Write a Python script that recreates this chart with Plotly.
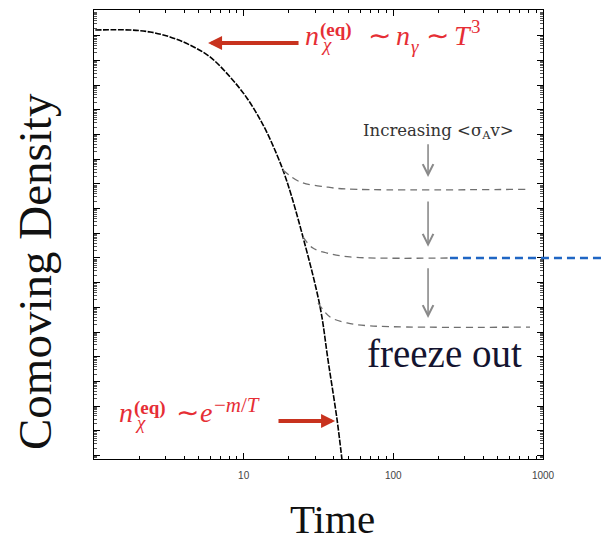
import numpy as np
import plotly.graph_objects as go

# ---------------- data ----------------
# equilibrium comoving density curve: time, log10(density)
eq_time = [1.02, 1.74, 2.37, 3.22, 4.38, 5.96, 8.11, 10.5, 13.5, 16.7, 19.5, 24.9, 32.4, 36.6, 42.1, 45.4]
eq_logn = [-0.77, -0.77, -0.85, -1.05, -1.38, -1.86, -2.67, -3.52, -4.62, -5.83, -6.92, -9.15, -11.98, -14.13, -16.56, -18.18]

# freeze-out branches (increasing <sigma_A v> from top to bottom)
fo1_time = [18.3, 23.8, 36.1, 49.0, 819]
fo1_logn = [-6.44, -6.92, -7.13, -7.21, -7.22]
fo2_time = [24.9, 29.0, 36.1, 51.3, 239]
fo2_logn = [-9.15, -9.60, -9.80, -9.96, -10.0]
fo3_time = [31.4, 37.8, 49.0, 69.8, 819]
fo3_logn = [-11.82, -12.39, -12.63, -12.75, -12.80]

# blue reference line at the middle relic level
relic_time_start = 239
relic_logn = -10.0

# grey "increasing" arrows: time, log10 start, log10 end
incr_time = 170.6
incr_from = [-5.34, -7.65, -10.36]
incr_to = [-6.72, -9.55, -12.43]

# red arrows: (tip time, tail time, log10 level)
red_top = (5.78, 23.8, -1.30)
red_bot = (40.8, 16.7, -16.6)

x_tickvals = [1, 10, 100, 1000]
x_ticktext = ["", "10", "100", "1000"]

# ---------------- layout helpers ----------------
W, H = 603, 539
L0, R0, T0, B0 = 94, 543, 10, 459
RED_TXT = "#e62e35"
RED_ARR = "#c8321e"
SERIF = "Liberation Serif"


def px(xp, yp):
    return (xp - L0) / (R0 - L0), (B0 - yp) / (B0 - T0)


def txt(s, xp, yp, size, color, family=SERIF, xanchor="left", angle=0):
    x, y = px(xp, yp)
    return dict(text=s, x=x, y=y, xref="paper", yref="paper", xanchor=xanchor,
                yanchor="middle", showarrow=False, textangle=angle,
                font=dict(family=family, size=size, color=color))


def arrow(t_tip, l_tip, t_tail, l_tail, color, width, head, size):
    return dict(x=np.log10(t_tip), y=l_tip, ax=np.log10(t_tail), ay=l_tail,
                xref="x", yref="y", axref="x", ayref="y", text="", showarrow=True,
                arrowhead=head, arrowsize=size, arrowwidth=width, arrowcolor=color,
                standoff=0, startstandoff=0)


fig = go.Figure()

fig.add_trace(go.Scatter(x=eq_time, y=[10 ** v for v in eq_logn], mode="lines",
                         line=dict(color="black", width=1.6, dash="6px,1.5px", shape="spline"),
                         showlegend=False))
for t, l in [(fo1_time, fo1_logn), (fo2_time, fo2_logn), (fo3_time, fo3_logn)]:
    fig.add_trace(go.Scatter(x=t, y=[10 ** v for v in l], mode="lines",
                             line=dict(color="#707070", width=1.3, dash="7px,5px", shape="spline"),
                             showlegend=False))

# blue dashed relic line extending past the frame
fig.add_shape(type="line", xref="paper", yref="y",
              x0=np.log10(relic_time_start) / 3.0, x1=(W - L0) / (R0 - L0),
              y0=10 ** relic_logn, y1=10 ** relic_logn,
              line=dict(color="#1f66c4", width=2.5, dash="8px,5px"))

ann = []
for a, b in zip(incr_from, incr_to):
    ann.append(arrow(incr_time, b, incr_time, a, "#8a8a8a", 1.6, 5, 1.3))
ann.append(arrow(red_top[0], red_top[2], red_top[1], red_top[2], RED_ARR, 4, 2, 0.7))
ann.append(arrow(red_bot[0], red_bot[2], red_bot[1], red_bot[2], RED_ARR, 4, 2, 0.7))

# label for grey arrows
ann.append(txt("Increasing &lt;σ<sub>A</sub>v&gt;", 438, 131, 16.5, "#333333",
               family="DejaVu Serif", xanchor="center"))

# top formula  n_chi^(eq) ~ n_gamma ~ T^3
ann.append(txt("<i>n</i>", 303, 35.5, 28, RED_TXT))
ann.append(txt("<b>(eq)</b>", 318, 30, 19, RED_TXT))
ann.append(txt("<i>χ</i>", 319, 45, 19, RED_TXT))
ann.append(txt("∼", 366, 35.5, 28, RED_TXT))
ann.append(txt("<i>n</i>", 394, 35.5, 28, RED_TXT))
ann.append(txt("<i>γ</i>", 409, 46, 19, RED_TXT))
ann.append(txt("∼", 424, 35.5, 28, RED_TXT))
ann.append(txt("<i>T</i>", 452, 35.5, 28, RED_TXT))
ann.append(txt("3", 469, 26.5, 19, RED_TXT))

# bottom formula  n_chi^(eq) ~ e^{-m/T}
ann.append(txt("<i>n</i>", 117, 412.5, 28, RED_TXT))
ann.append(txt("<b>(eq)</b>", 132, 407.5, 19, RED_TXT))
ann.append(txt("<i>χ</i>", 133, 422, 19, RED_TXT))
ann.append(txt("∼", 174, 412.5, 28, RED_TXT))
ann.append(txt("<i>e</i>", 198, 412.5, 28, RED_TXT))
ann.append(txt("−<i>m</i>/<i>T</i>", 212, 404.5, 21, RED_TXT))

# other texts
ann.append(txt("freeze out", 444, 354, 39, "#141430", xanchor="center"))
ann.append(txt("Comoving Density", 35, 272, 47, "#111111", xanchor="center", angle=-90))
ann.append(txt("Time", 332, 519, 41, "#111111", xanchor="center"))

x_minor = [k * 10 ** d for d in range(3) for k in range(2, 10)]
y_major = [10.0 ** k for k in range(-18, 1)]
y_minor = [k * 10.0 ** d for d in range(-19, 1) for k in range(2, 10)]

fig.update_layout(
    width=W, height=H,
    margin=dict(l=L0, r=W - R0, t=T0, b=H - B0),
    plot_bgcolor="white", paper_bgcolor="white",
    annotations=ann,
    xaxis=dict(type="log", range=[0, 3], tickmode="array", tickvals=x_tickvals, ticktext=x_ticktext,
               ticks="inside", ticklen=6, tickwidth=1, tickcolor="black",
               showline=True, linecolor="black", linewidth=1.3, mirror="ticks",
               showgrid=False, zeroline=False, ticklabelstandoff=7,
               tickfont=dict(family="Liberation Sans", size=10, color="#444444"),
               minor=dict(tickmode="array", tickvals=x_minor, ticks="inside", ticklen=3,
                          tickcolor="black", tickwidth=1, showgrid=False)),
    yaxis=dict(type="log", range=[-18.14, 0.04], tickmode="array", tickvals=y_major,
               showticklabels=False, ticks="inside", ticklen=6, tickwidth=1.2, tickcolor="black",
               showline=True, linecolor="black", linewidth=1.3, mirror="ticks",
               showgrid=False, zeroline=False,
               minor=dict(tickmode="array", tickvals=y_minor, ticks="inside", ticklen=3,
                          tickcolor="#555555", tickwidth=0.8, showgrid=False)),
)

fig.write_html("out.html", config={"displayModeBar": False},
               post_script="document.body.style.margin='0px';")
